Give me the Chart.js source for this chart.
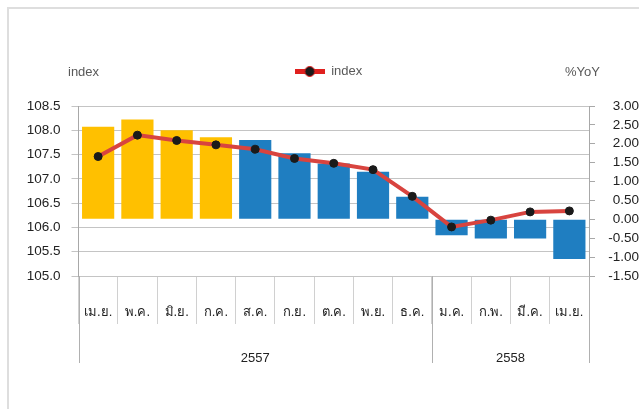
<!DOCTYPE html>
<html>
<head>
<meta charset="utf-8">
<script src="https://cdn.jsdelivr.net/npm/chart.js@4.4.1/dist/chart.umd.min.js"></script>
<style>
  html, body { margin:0; padding:0; background:#fff; }
  #wrap { position:relative; width:639px; height:409px; overflow:hidden; }
  #frame { position:absolute; left:7px; top:7px; width:700px; height:500px; border-top:2px solid #dedede; border-left:2px solid #dedede; }
  #chart { position:absolute; left:0; top:0; }
</style>
</head>
<body>
<div id="wrap">
  <div id="frame"></div>
  <canvas id="chart" width="639" height="409"></canvas>
</div>
<script>
// data
const months = ['เม.ย.','พ.ค.','มิ.ย.','ก.ค.','ส.ค.','ก.ย.','ต.ค.','พ.ย.','ธ.ค.','ม.ค.','ก.พ.','มี.ค.','เม.ย.'];
const years = ['2557','2557','2557','2557','2557','2557','2557','2557','2557','2558','2558','2558','2558'];
const yoyValues = [2.45, 2.64, 2.36, 2.17, 2.10, 1.75, 1.48, 1.26, 0.60, -0.42, -0.51, -0.51, -1.05];
const indexValues = [107.46, 107.90, 107.79, 107.70, 107.61, 107.42, 107.32, 107.19, 106.64, 106.01, 106.15, 106.32, 106.34];
const leftTicks = { min:105, max:108.5, step:0.5 };
const rightTicks = { min:-1.5, max:3, step:0.5 };

const FONT = "'Liberation Sans', Arial, sans-serif";
const YELLOW = '#FFC000';
const BLUE = '#1F7EC1';
const RED = '#D8443F';

// legend marker: red line with a dark dot
function legendMarker(){
  const c = document.createElement('canvas'); c.width = 30; c.height = 12;
  const g = c.getContext('2d');
  g.fillStyle = '#E0201E'; g.fillRect(0, 4, 30, 5);
  g.beginPath(); g.arc(15, 6.5, 5, 0, Math.PI*2); g.fillStyle = '#1a1a1a'; g.fill();
  g.lineWidth = 1; g.strokeStyle = '#E0201E'; g.stroke();
  return c;
}
const marker = legendMarker();

// fixed legend height so the plot starts where it does in the picture
const legendHeight = {
  id:'legendHeight',
  beforeInit(chart){
    const fit = chart.legend.fit;
    chart.legend.fit = function(){ fit.bind(chart.legend)(); this.height = 106; };
  }
};

// axis titles, year row and its separators
const extras = {
  id:'extras',
  afterDraw(chart){
    const ctx = chart.ctx; const a = chart.chartArea; const x = chart.scales.x;
    ctx.save();
    ctx.font = '13px ' + FONT; ctx.fillStyle = '#595959'; ctx.textBaseline = 'middle';
    ctx.textAlign = 'left'; ctx.fillText('index', 68, 72);
    ctx.textAlign = 'right'; ctx.fillText('%YoY', 600, 72);

    const rowBottom = a.bottom + 87;
    ctx.strokeStyle = '#b0b0b0'; ctx.lineWidth = 1;
    // group contiguous years
    const groups = [];
    years.forEach((y, i) => {
      const last = groups[groups.length-1];
      if(last && last.label === y) last.end = i; else groups.push({ label:y, start:i, end:i });
    });
    const edge = i => {
      if(i <= 0) return a.left;
      if(i >= months.length) return a.right;
      return (x.getPixelForValue(i-1) + x.getPixelForValue(i)) / 2;
    };
    const bounds = new Set();
    groups.forEach(g => { bounds.add(g.start); bounds.add(g.end+1); });
    bounds.forEach(b => {
      const px = Math.round(edge(b)) + 0.5;
      ctx.beginPath(); ctx.moveTo(px, a.bottom); ctx.lineTo(px, rowBottom); ctx.stroke();
    });
    ctx.fillStyle = '#222'; ctx.textAlign = 'center'; ctx.font = '13px ' + FONT;
    groups.forEach(g => {
      const cx = (edge(g.start) + edge(g.end+1)) / 2;
      ctx.fillText(g.label, cx, a.bottom + 82);
    });
    ctx.restore();
  }
};

new Chart(document.getElementById('chart'), {
  data:{
    labels: months,
    datasets:[
      { type:'line', label:'index', data:indexValues, yAxisID:'yL', order:0,
        borderColor:RED, borderWidth:4, pointRadius:4, pointBackgroundColor:'#1a1a1a',
        pointBorderColor:'#1a1a1a', pointBorderWidth:1, tension:0 },
      { type:'bar', label:'%YoY', data:yoyValues, yAxisID:'yR', order:1,
        backgroundColor: yoyValues.map((v, i) => i < 4 ? YELLOW : BLUE),
        categoryPercentage:1, barPercentage:0.82 }
    ]
  },
  options:{
    responsive:false, animation:false,
    layout:{ padding:{ left:18, right:0, top:0, bottom:85 } },
    plugins:{
      tooltip:{ enabled:false },
      legend:{
        position:'top', align:'center',
        labels:{
          usePointStyle:true, pointStyleWidth:30, padding:64.5, color:'#595959',
          font:{ family:FONT, size:13 },
          filter: item => item.text === 'index',
          generateLabels: chart => Chart.defaults.plugins.legend.labels.generateLabels(chart)
            .map(l => Object.assign(l, { pointStyle: marker }))
        }
      }
    },
    scales:{
      x:{
        grid:{ offset:true, drawOnChartArea:false, tickLength:48, color:'#d0d0d0' },
        border:{ display:false },
        ticks:{ padding:-19, color:'#222', font:{ family:FONT, size:13 }, maxRotation:0, autoSkip:false },
        afterFit: s => { s.height = 48; }
      },
      yL:{
        position:'left', min:leftTicks.min, max:leftTicks.max,
        grid:{ color:'#c4c4c4', tickLength:7 },
        border:{ display:true, color:'#a8a8a8' },
        ticks:{ stepSize:leftTicks.step, autoSkip:false, padding:11, color:'#222', font:{ family:FONT, size:13.5 },
          callback: v => Number(v).toFixed(1) },
        afterFit: s => { s.width = 60.5; }
      },
      yR:{
        position:'right', min:rightTicks.min, max:rightTicks.max,
        grid:{ drawOnChartArea:false, tickLength:6, color:'#a8a8a8' },
        border:{ display:true, color:'#a8a8a8' },
        ticks:{ stepSize:rightTicks.step, autoSkip:false, padding:9, crossAlign:'far', color:'#222', font:{ family:FONT, size:13.5 },
          callback: v => Number(v).toFixed(2) },
        afterFit: s => { s.width = 50; }
      }
    }
  },
  plugins:[legendHeight, extras]
});
</script>
</body>
</html>
